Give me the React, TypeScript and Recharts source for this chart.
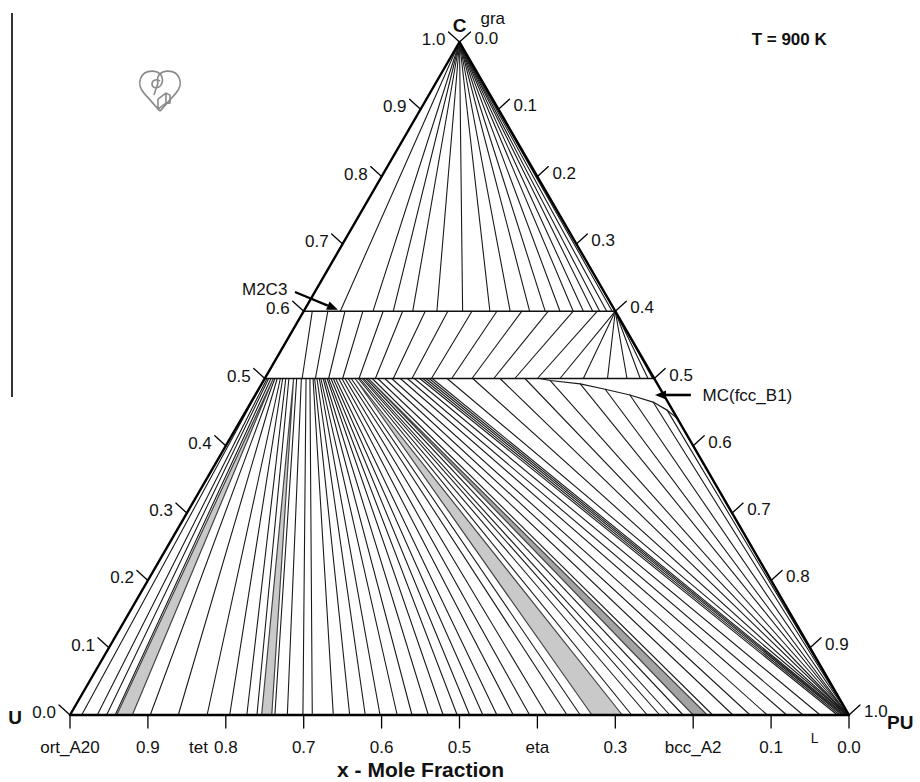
import React from 'react';
import { ComposedChart, XAxis, YAxis, Scatter } from 'recharts';

// ---------------- data (mole fractions: p = x(PU), c = x(C)) ----------------
// gra + M2C3 tie lines: from C corner to points on the c = 0.6 line
const graM2C3P = [0.047, 0.089, 0.115, 0.140, 0.171, 0.204, 0.239, 0.265, 0.290, 0.310, 0.329, 0.346, 0.359, 0.371, 0.380, 0.389, 0.396];

// M2C3 + MC tie lines: c = 0.6 (top) -> c = 0.5 (bottom)
const m2c3TopP = [0.011, 0.031, 0.053, 0.076, 0.102, 0.127, 0.156, 0.185, 0.216, 0.248, 0.280, 0.314, 0.346, 0.377];
const m2c3BotP = [0.048, 0.065, 0.082, 0.100, 0.121, 0.142, 0.165, 0.189, 0.214, 0.240, 0.266, 0.294, 0.321, 0.350];

// fan from the Pu2C3 corner (p = 0.4, c = 0.6) to the c = 0.5 line
const pu2c3FanBotP = [0.379, 0.409, 0.440, 0.465, 0.482, 0.492, 0.498];

// MC + metal tie lines: c = 0.5 (top) -> c = 0 (bottom)
const mcTopP = [
  0.000, 0.003, 0.005, 0.008, 0.013, 0.016, 0.020, 0.023, 0.027, 0.031,
  0.041, 0.047, 0.053, 0.058, 0.062, 0.064, 0.067, 0.070, 0.072, 0.075,
  0.077, 0.080, 0.082, 0.085, 0.088, 0.091, 0.095, 0.099, 0.103, 0.107,
  0.111, 0.120, 0.122, 0.125, 0.127, 0.130, 0.138, 0.145, 0.154, 0.163,
  0.174, 0.183, 0.192, 0.199, 0.203, 0.207, 0.211, 0.215,
];
const mcBotP = [
  0.015, 0.035, 0.047, 0.058, 0.103, 0.139, 0.176, 0.205, 0.227, 0.240,
  0.263, 0.279, 0.299, 0.311, 0.338, 0.359, 0.379, 0.398, 0.420, 0.439,
  0.460, 0.479, 0.497, 0.513, 0.530, 0.548, 0.569, 0.590, 0.612, 0.638,
  0.655, 0.721, 0.741, 0.757, 0.770, 0.787, 0.825, 0.851, 0.873, 0.895,
  0.920, 0.941, 0.963, 0.985, 0.988, 0.991, 0.993, 0.995,
];

// lower boundary of the MC(fcc_B1) region
const mcBoundaryP = [0.353, 0.368, 0.409, 0.445, 0.481, 0.516, 0.540, 0.559];
const mcBoundaryC = [0.500, 0.497, 0.492, 0.484, 0.4755, 0.465, 0.453, 0.441];

// MC + liquid tie lines converging on the PU corner
const liqTopP = [0.234, 0.267, 0.302, 0.334, 0.368, 0.409, 0.445, 0.481, 0.516, 0.540, 0.559];
const liqTopC = [0.500, 0.500, 0.500, 0.500, 0.497, 0.492, 0.484, 0.4755, 0.465, 0.453, 0.441];
const liqBotP = [0.997, 0.997, 0.998, 0.998, 0.999, 0.999, 0.999, 1.000, 1.000, 1.000, 1.000];

// three-phase triangles (top vertex on c = 0.5, two vertices on c = 0)
const triTopP = [0.011, 0.037, 0.116, 0.133];
const triBot1P = [0.060, 0.246, 0.670, 0.800];
const triBot2P = [0.080, 0.259, 0.709, 0.818];
const triFill = ['#c9c9c9', '#c9c9c9', '#c9c9c9', '#a3a3a3'];

// axes
const sideTicks = [0, 0.1, 0.2, 0.3, 0.4, 0.5, 0.6, 0.7, 0.8, 0.9, 1.0];
const sideTickLabels = ['0.0', '0.1', '0.2', '0.3', '0.4', '0.5', '0.6', '0.7', '0.8', '0.9', '1.0'];
const bottomTicksXU = [1.0, 0.9, 0.8, 0.7, 0.6, 0.5, 0.4, 0.3, 0.2, 0.1, 0.0];
const bottomTickLabels = ['ort_A20', '0.9', '0.8', '0.7', '0.6', '0.5', 'eta', '0.3', 'bcc_A2', '0.1', '0.0'];
const extraPhaseXU = [0.835];
const extraPhaseLabels = ['tet'];
const liquidXU = [0.044];
const liquidLabel = ['L'];

// ---------------- geometry helpers ----------------
const FONT = '"Liberation Sans", Arial, Helvetica, sans-serif';
const W = 920;
const H = 782;
const X_DOMAIN: [number, number] = [-70 / 779, 850 / 779];
const Y_DOMAIN: [number, number] = [-67 / 673, 715 / 673];
const PXX = 1 / 779;
const PXY = 1 / 673;

type Pt = { x: number; y: number; label?: string };
const tp = (p: number, c: number): Pt => ({ x: p + c / 2, y: c });

const hidden = () => <g />;

function segLayer(key: string, segs: Pt[][], stroke: string, width: number) {
  const data = segs.flat();
  return (
    <Scatter
      key={key}
      data={data}
      isAnimationActive={false}
      shape={hidden}
      legendType="none"
      line={(lp: any) => {
        const pts = lp.points || [];
        const out: any[] = [];
        for (let i = 0; i + 1 < pts.length; i += 2) {
          out.push(
            <line key={i} x1={pts[i].x} y1={pts[i].y} x2={pts[i + 1].x} y2={pts[i + 1].y}
              stroke={stroke} strokeWidth={width} strokeLinecap="round" />
          );
        }
        return <g>{out}</g>;
      }}
    />
  );
}

function polyLayer(key: string, verts: Pt[], fill: string, stroke: string, width: number, closed = true) {
  return (
    <Scatter
      key={key}
      data={verts}
      isAnimationActive={false}
      shape={hidden}
      legendType="none"
      line={(lp: any) => {
        const s = (lp.points || []).map((q: any) => `${q.x},${q.y}`).join(' ');
        return closed ? (
          <polygon points={s} fill={fill} stroke={stroke} strokeWidth={width} strokeLinejoin="round" />
        ) : (
          <polyline points={s} fill="none" stroke={stroke} strokeWidth={width} strokeLinejoin="round" />
        );
      }}
    />
  );
}

function textLayer(key: string, items: Pt[], anchor: string, dx: number, dy: number, size: number, weight: string | number = 'normal') {
  return (
    <Scatter
      key={key}
      data={items}
      isAnimationActive={false}
      legendType="none"
      shape={(sp: any) => (
        <text x={sp.cx + dx} y={sp.cy + dy} textAnchor={anchor as any} fontSize={size}
          fontFamily={FONT} fontWeight={weight} fill="#111">
          {sp.payload.label}
        </text>
      )}
    />
  );
}

function arrowLayer(key: string, tail: Pt, head: Pt, width: number) {
  return (
    <Scatter
      key={key}
      data={[tail, head]}
      isAnimationActive={false}
      shape={hidden}
      legendType="none"
      line={(lp: any) => {
        const [a, b] = lp.points || [];
        if (!a || !b) return <g />;
        const dx = b.x - a.x;
        const dy = b.y - a.y;
        const L = Math.hypot(dx, dy) || 1;
        const ux = dx / L;
        const uy = dy / L;
        const hl = 11;
        const hw = 4.5;
        const bx = b.x - ux * hl;
        const by = b.y - uy * hl;
        return (
          <g>
            <line x1={a.x} y1={a.y} x2={bx} y2={by} stroke="#000" strokeWidth={width} />
            <polygon
              points={`${b.x},${b.y} ${bx - uy * hw},${by + ux * hw} ${bx + uy * hw},${by - ux * hw}`}
              fill="#000"
            />
          </g>
        );
      }}
    />
  );
}

function Logo({ cx, cy }: { cx: number; cy: number }) {
  return (
    <g transform={`translate(${cx},${cy})`} fill="none" stroke="#8a8a8a" strokeWidth={1.6} strokeLinejoin="round">
      <path d="M0,22 L-16,4 C-24,-5 -20,-18 -8,-18 C0,-18 4,-12 2,-6 C0,0 -8,0 -8,-5 C-8,-10 -2,-10 0,-8" />
      <path d="M0,22 L16,4 C24,-5 20,-18 8,-18 C0,-18 -4,-12 -2,-6 L-6,6" />
      <path d="M-2,10 L-2,20 L6,14 L6,4 L-2,10 M6,4 L10,6 L10,14 L6,14" />
    </g>
  );
}

export default function App() {
  const U = tp(0, 0);
  const PU = tp(1, 0);
  const C = tp(0, 1);

  const graSegs = graM2C3P.map((p) => [C, tp(p, 0.6)]);
  const m2c3Segs = m2c3TopP.map((p, i) => [tp(p, 0.6), tp(m2c3BotP[i], 0.5)]);
  const fanSegs = pu2c3FanBotP.map((p) => [tp(0.4, 0.6), tp(p, 0.5)]);
  const mcSegs = mcTopP.map((p, i) => [tp(p, 0.5), tp(mcBotP[i], 0)]);
  const liqSegs = liqTopP.map((p, i) => [tp(p, liqTopC[i]), tp(liqBotP[i], 0)]);
  const phaseLines = [
    [tp(0, 0.6), tp(0.4, 0.6)],
    [tp(0, 0.5), tp(0.5, 0.5)],
  ];

  const leftTickSegs = sideTicks.map((v) => {
    const a = tp(0, v);
    return [a, { x: a.x - 11 * PXX, y: a.y + 10 * PXY }];
  });
  const rightTickSegs = sideTicks.map((v) => {
    const a = tp(v, 1 - v);
    return [a, { x: a.x + 11 * PXX, y: a.y + 10 * PXY }];
  });
  const bottomTickSegs = bottomTicksXU.map((v) => {
    const a = tp(1 - v, 0);
    return [a, { x: a.x, y: a.y - 13 * PXY }];
  });

  const leftLabels = sideTicks.map((v, i) => ({ ...tp(0, v), label: sideTickLabels[i] }));
  const rightLabels = sideTicks.map((v, i) => ({ ...tp(v, 1 - v), label: sideTickLabels[i] }));
  const bottomLabels = bottomTicksXU.map((v, i) => ({ ...tp(1 - v, 0), label: bottomTickLabels[i] }));
  const extraLabels = extraPhaseXU.map((v, i) => ({ ...tp(1 - v, 0), label: extraPhaseLabels[i] }));
  const liqLabels = liquidXU.map((v, i) => ({ ...tp(1 - v, 0), label: liquidLabel[i] }));

  const mcCurve = mcBoundaryP.map((p, i) => tp(p, mcBoundaryC[i]));

  return (
    <div style={{ position: 'absolute', left: 0, top: 0, width: W, height: H, background: '#fff' }}>
      <div style={{ position: 'absolute', left: 11, top: 13, width: 1.6, height: 384, background: '#333' }} />
      <ComposedChart width={W} height={H} margin={{ top: 0, right: 0, bottom: 0, left: 0 }}>
        <XAxis type="number" dataKey="x" domain={X_DOMAIN} allowDataOverflow hide />
        <YAxis type="number" dataKey="y" domain={Y_DOMAIN} allowDataOverflow hide />

        {triTopP.map((p, i) =>
          polyLayer(`tri${i}`, [tp(p, 0.5), tp(triBot1P[i], 0), tp(triBot2P[i], 0)], triFill[i], '#444', 1.2)
        )}

        {segLayer('gra', graSegs, '#1a1a1a', 1.1)}
        {segLayer('m2c3', m2c3Segs, '#1a1a1a', 1.1)}
        {segLayer('fan', fanSegs, '#1a1a1a', 1.1)}
        {segLayer('mc', mcSegs, '#1a1a1a', 1.1)}
        {segLayer('liq', liqSegs, '#1a1a1a', 1.1)}
        {polyLayer('mcb', mcCurve, 'none', '#1a1a1a', 1.2, false)}
        {segLayer('phase', phaseLines, '#111', 1.6)}

        {polyLayer('frame', [U, PU, C], 'none', '#000', 2.4)}

        {segLayer('lt', leftTickSegs, '#000', 1.3)}
        {segLayer('rt', rightTickSegs, '#000', 1.3)}
        {segLayer('bt', bottomTickSegs, '#000', 1.3)}

        {textLayer('ll', leftLabels, 'end', -14, 3, 17)}
        {textLayer('rl', rightLabels, 'start', 15, 2, 17)}
        {textLayer('bl', bottomLabels, 'middle', 0, 38, 17)}
        {textLayer('el', extraLabels, 'middle', 0, 38, 17)}
        {textLayer('liql', liqLabels, 'middle', 0, 28, 14)}

        {textLayer('vC', [{ ...C, label: 'C' }], 'middle', 0, -10, 19, 'bold')}
        {textLayer('vCg', [{ ...C, label: 'gra' }], 'start', 21, -18, 17)}
        {textLayer('vU', [{ ...U, label: 'U' }], 'middle', -55, 9, 19, 'bold')}
        {textLayer('vPU', [{ ...PU, label: 'PU' }], 'start', 38, 14, 19, 'bold')}

        {textLayer('title', [{ ...tp(1 - 0.55, 0), label: 'x - Mole Fraction' }], 'middle', 0, 62, 21, 'bold')}
        {textLayer('temp', [{ x: 0.875, y: 0.995, label: 'T = 900 K' }], 'start', 0, 0, 17, 'bold')}

        {arrowLayer('a1', { x: 0.2888, y: 0.6285 }, { x: 0.344, y: 0.602 }, 2.2)}
        {arrowLayer('a2', { x: 0.797, y: 0.4755 }, { x: 0.751, y: 0.4755 }, 2.6)}
        {textLayer('m2c3lbl', [{ x: 0.2208, y: 0.6285, label: 'M2C3' }], 'start', 0, 3, 17)}
        {textLayer('mclbl', [{ x: 0.812, y: 0.4755, label: 'MC(fcc_B1)' }], 'start', 0, 6, 17)}

        <Scatter
          data={[{ x: 0.1155, y: 0.93 }]}
          isAnimationActive={false}
          legendType="none"
          shape={(sp: any) => <Logo cx={sp.cx} cy={sp.cy} />}
        />
      </ComposedChart>
    </div>
  );
}
